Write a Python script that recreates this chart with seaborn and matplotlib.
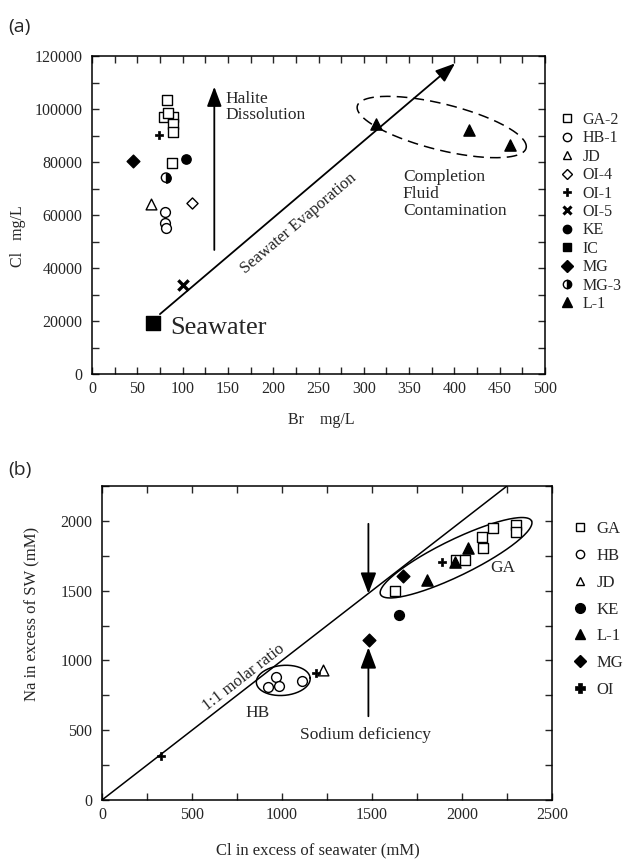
import numpy as np
import matplotlib
matplotlib.use("Agg")
import matplotlib.pyplot as plt
from matplotlib.markers import MarkerStyle
from matplotlib.lines import Line2D
from matplotlib.ticker import MultipleLocator
import seaborn as sns

sns.set_style("ticks")
plt.rcParams["font.family"] = ["Liberation Serif", "DejaVu Serif"]
plt.rcParams["axes.linewidth"] = 1.1

# ---------------- panel (a): Br vs Cl, mg/L ----------------
ga2_br = [83, 80, 89, 84, 89, 89, 88]
ga2_cl = [103400, 97100, 97100, 98600, 94300, 91400, 79700]
hb1_br = [80.6, 80.6, 81.7]
hb1_cl = [61200, 56900, 55200]
jd_br, jd_cl = [64.8], [64200]
oi4_br, oi4_cl = [110], [64400]
oi1_br, oi1_cl = [74.3], [90200]
oi5_br, oi5_cl = [100.8], [33600]
ke_br, ke_cl = [103.8], [81100]
ic_br, ic_cl = [67.7], [19400]
mg_br, mg_cl = [44.9], [80400]
mg3_br, mg3_cl = [81.7], [74100]
l1_br = [314, 416, 461]
l1_cl = [94200, 92100, 86400]

evap_start = (75, 22600)
evap_end = (400.7, 117200)
halite_br = 135
halite_cl = [46800, 108400]

# ---------------- panel (b): Cl excess vs Na excess, mM ----------------
b_ga_cl = [1628, 1967, 2017, 2109, 2115, 2170, 2300, 2300]
b_ga_na = [1495, 1719, 1719, 1881, 1805, 1952, 1971, 1917]
b_hb_cl = [924, 967, 985, 1109]
b_hb_na = [809, 881, 814, 852]
b_jd_cl, b_jd_na = [1226], [934]
b_ke_cl, b_ke_na = [1650], [1329]
b_l1_cl = [1807, 1961, 2035]
b_l1_na = [1576, 1702, 1809]
b_mg_cl = [1485, 1670]
b_mg_na = [1148, 1607]
b_oi_cl = [326, 1189, 1887]
b_oi_na = [314, 909, 1702]

ratio_line = [0, 2250]
deficit_cl = 1480
deficit_down = [1979, 1479]
deficit_up = [600, 1093]

W, H = 636, 867
fig = plt.figure(figsize=(W / 100, H / 100), dpi=100)


def axes_px(left, top, right, bottom):
    return fig.add_axes([left / W, 1 - bottom / H, (right - left) / W, (bottom - top) / H])


ax_a = axes_px(92, 56, 545, 374)
ax_b = axes_px(102, 486, 552, 800)


def dots(ax, x, y, marker, face, s, lw=1.0, z=3):
    if marker in ("x", "+"):
        sns.scatterplot(x=x, y=y, ax=ax, marker=marker, s=s, color="black",
                        linewidth=lw, zorder=z, legend=False)
    else:
        sns.scatterplot(x=x, y=y, ax=ax, marker=marker, s=s, facecolor=face,
                        edgecolor="black", linewidth=lw, zorder=z, legend=False)


def key(marker, face="black", ms=6, mew=1.0, **kw):
    return Line2D([], [], linestyle="none", marker=marker, markerfacecolor=face,
                  markeredgecolor="black", color="black", markersize=ms,
                  markeredgewidth=mew, **kw)


def style_axes(ax, xmax, ymax, xmaj, xmin, ymaj, ymin):
    ax.set_xlim(0, xmax)
    ax.set_ylim(0, ymax)
    ax.xaxis.set_major_locator(MultipleLocator(xmaj))
    ax.xaxis.set_minor_locator(MultipleLocator(xmin))
    ax.yaxis.set_major_locator(MultipleLocator(ymaj))
    ax.yaxis.set_minor_locator(MultipleLocator(ymin))
    ax.tick_params(which="both", direction="in", top=True, right=True,
                   length=5, width=1.0, labelsize=11.5)
    ax.tick_params(axis="y", pad=7)
    ax.tick_params(axis="x", pad=5)
    ax.set_xlabel("")
    ax.set_ylabel("")
    for sp in ax.spines.values():
        sp.set_color("black")


# ---- draw panel (a) ----
ax = ax_a
style_axes(ax, 500, 120000, 50, 25, 20000, 10000)

dots(ax, ga2_br, ga2_cl, "s", "white", 50)
dots(ax, hb1_br, hb1_cl, "o", "white", 50)
dots(ax, jd_br, jd_cl, "^", "white", 60)
dots(ax, oi4_br, oi4_cl, "D", "white", 32)
dots(ax, oi1_br, oi1_cl, "P", "black", 40, lw=0.5)
dots(ax, oi5_br, oi5_cl, "x", "black", 55, lw=2.4)
dots(ax, ke_br, ke_cl, "o", "black", 45)
dots(ax, ic_br, ic_cl, "s", "black", 95)
dots(ax, mg_br, mg_cl, "D", "black", 42)
dots(ax, mg3_br, mg3_cl, MarkerStyle("o", fillstyle="right"), "black", 45)
dots(ax, mg3_br, mg3_cl, "o", "none", 45, z=4)
dots(ax, l1_br, l1_cl, "^", "black", 65)

ax.annotate("", xy=evap_end, xytext=evap_start,
            arrowprops=dict(arrowstyle="-|>,head_length=0.8,head_width=0.3",
                            mutation_scale=15, lw=1.3, color="black",
                            shrinkA=0, shrinkB=0), zorder=2)
ax.annotate("", xy=(halite_br, halite_cl[1]), xytext=(halite_br, halite_cl[0]),
            arrowprops=dict(arrowstyle="-|>,head_length=0.8,head_width=0.3",
                            mutation_scale=15, lw=1.3, color="black",
                            shrinkA=0, shrinkB=0))

fig.canvas.draw()


def line_angle(ax, p0, p1):
    a = ax.transData.transform(p0)
    b = ax.transData.transform(p1)
    return np.degrees(np.arctan2(b[1] - a[1], b[0] - a[0]))


def ellipse_px(ax, center, a_px, b_px, angle_deg, n=200):
    cx, cy = ax.transData.transform(center)
    t = np.linspace(0, 2 * np.pi, n)
    th = np.radians(angle_deg)
    ex = a_px * np.cos(t)
    ey = b_px * np.sin(t)
    px = cx + ex * np.cos(th) - ey * np.sin(th)
    py = cy + ex * np.sin(th) + ey * np.cos(th)
    return ax.transData.inverted().transform(np.column_stack([px, py]))


evap_ang = line_angle(ax, evap_start, evap_end)
ax.text(228, 56600, "Seawater Evaporation", rotation=evap_ang, rotation_mode="anchor",
        ha="center", va="center", fontsize=12)
ax.text(147, 100800, "Halite\nDissolution", ha="left", va="center", fontsize=12.5,
        linespacing=1.0)
ax.text(343, 67900, "Completion\nFluid\nContamination", ha="left", va="center",
        fontsize=12.5, linespacing=1.05)
ax.text(86, 17500, "Seawater", ha="left", va="center", fontsize=19)

blob = ellipse_px(ax, (386, 93200), 87, 23, -14)
ax.plot(blob[:, 0], blob[:, 1], color="black", lw=1.1, dashes=(7, 4))

keys_a = [key("s", "white"), key("o", "white"), key("^", "white"), key("D", "white", ms=5),
          key("P", "black", ms=6, mew=0.5), key("x", ms=6, mew=2.2), key("o", "black"),
          key("s", "black"), key("D", "black", ms=6),
          key("o", "black", fillstyle="right", markerfacecoloralt="white"),
          key("^", "black", ms=7)]
labels_a = ["GA-2", "HB-1", "JD", "OI-4", "OI-1", "OI-5", "KE", "IC", "MG", "MG-3", "L-1"]
ax.legend(keys_a, labels_a, loc="upper left", bbox_to_anchor=(559 / W, 1 - 112 / H),
          bbox_transform=fig.transFigure, frameon=False, fontsize=11.5,
          handlelength=1.0, handletextpad=0.45, labelspacing=0.15, borderpad=0,
          borderaxespad=0)

fig.text(18 / W, 1 - 236 / H, "Cl   mg/L", rotation=90, ha="center", va="center",
         fontsize=11.5)
fig.text(321 / W, 1 - 420 / H, "Br    mg/L", ha="center", va="center", fontsize=11.5)
fig.text(8 / W, 1 - 27 / H, "(a)", ha="left", va="center", fontsize=14,
         family=["Open Sans", "DejaVu Sans"])

# ---- draw panel (b) ----
ax = ax_b
style_axes(ax, 2500, 2250, 500, 250, 500, 250)
ax.plot(ratio_line, ratio_line, color="black", lw=1.1, zorder=2)

dots(ax, b_ga_cl, b_ga_na, "s", "white", 50)
dots(ax, b_hb_cl, b_hb_na, "o", "white", 50)
dots(ax, b_jd_cl, b_jd_na, "^", "white", 60)
dots(ax, b_ke_cl, b_ke_na, "o", "black", 50)
dots(ax, b_l1_cl, b_l1_na, "^", "black", 65)
dots(ax, b_mg_cl, b_mg_na, "D", "black", 42)
dots(ax, b_oi_cl, b_oi_na, "P", "black", 40, lw=0.5)

for y0, y1 in (deficit_down, deficit_up):
    ax.annotate("", xy=(deficit_cl, y1), xytext=(deficit_cl, y0),
                arrowprops=dict(arrowstyle="-|>,head_length=0.85,head_width=0.32",
                                mutation_scale=15, lw=1.3, color="black",
                                shrinkA=0, shrinkB=0))

fig.canvas.draw()
ratio_ang = line_angle(ax, (0, 0), (2000, 2000))
ax.text(789, 875, "1:1 molar ratio", rotation=ratio_ang, rotation_mode="anchor",
        ha="center", va="center", fontsize=12)
ax.text(867, 621, "HB", ha="center", va="center", fontsize=12.5)
ax.text(2228, 1666, "GA", ha="center", va="center", fontsize=12.5)
ax.text(1100, 464, "Sodium deficiency", ha="left", va="center", fontsize=12.5)

ga_ring = ellipse_px(ax, (1967, 1736), 84, 18, 26)
ax.plot(ga_ring[:, 0], ga_ring[:, 1], color="black", lw=1.1)
hb_ring = ellipse_px(ax, (1007, 857), 27, 15, 5)
ax.plot(hb_ring[:, 0], hb_ring[:, 1], color="black", lw=1.1)

keys_b = [key("s", "white"), key("o", "white"), key("^", "white"), key("o", "black", ms=7),
          key("^", "black", ms=7), key("D", "black", ms=6), key("P", "black", ms=7, mew=0.5)]
labels_b = ["GA", "HB", "JD", "KE", "L-1", "MG", "OI"]
ax.legend(keys_b, labels_b, loc="upper left", bbox_to_anchor=(572 / W, 1 - 521 / H),
          bbox_transform=fig.transFigure, frameon=False, fontsize=12,
          handlelength=1.0, handletextpad=0.45, labelspacing=0.65, borderpad=0,
          borderaxespad=0)

fig.text(32 / W, 1 - 614 / H, "Na in excess of SW (mM)", rotation=90, ha="center",
         va="center", fontsize=12)
fig.text(318 / W, 1 - 850 / H, "Cl in excess of seawater (mM)", ha="center",
         va="center", fontsize=12)
fig.text(8 / W, 1 - 470 / H, "(b)", ha="left", va="center", fontsize=14,
         family=["Open Sans", "DejaVu Sans"])

fig.savefig("out.png", dpi=100)
